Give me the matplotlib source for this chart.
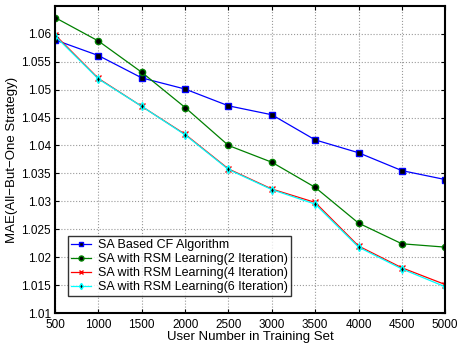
import numpy as np
import matplotlib
matplotlib.use('Agg')
import matplotlib.pyplot as plt

plt.rcParams['font.family'] = ['Liberation Sans', 'DejaVu Sans']

users = [500, 1000, 1500, 2000, 2500, 3000, 3500, 4000, 4500, 5000]
sa_cf = [1.0589, 1.0561, 1.0521, 1.0501, 1.0471, 1.0455, 1.0410, 1.0387, 1.0355, 1.0339]
rsm_2 = [1.0629, 1.0587, 1.0531, 1.0468, 1.0400, 1.0370, 1.0325, 1.0261, 1.0224, 1.0218]
rsm_4 = [1.0598, 1.0520, 1.0470, 1.0420, 1.0358, 1.0322, 1.0298, 1.0220, 1.0181, 1.0151]
rsm_6 = [1.0596, 1.0519, 1.0470, 1.0419, 1.0357, 1.0321, 1.0295, 1.0218, 1.0179, 1.0147]

labels = ['SA Based CF Algorithm',
          'SA with RSM Learning(2 Iteration)',
          'SA with RSM Learning(4 Iteration)',
          'SA with RSM Learning(6 Iteration)']

fig = plt.figure(figsize=(4.59, 3.44), dpi=100)
ax = fig.add_axes([0.12, 0.09, 0.85, 0.893])

ax.plot(users, sa_cf, color='blue', marker='s', markersize=4, markerfacecolor='black',
        markeredgecolor='blue', lw=0.9, label=labels[0])
ax.plot(users, rsm_2, color='green', marker='o', markersize=4.5, markerfacecolor='black',
        markeredgecolor='green', lw=0.9, label=labels[1])
ax.plot(users, rsm_4, color='red', marker='x', markersize=4, markeredgecolor='red',
        lw=0.9, label=labels[2])
ax.plot(users, rsm_6, color='cyan', marker='d', markersize=4, markerfacecolor='black',
        markeredgecolor='cyan', lw=0.9, label=labels[3])

ax.set_xlim(500, 5000)
ax.set_ylim(1.01, 1.065)
ax.set_xticks(users)
ax.set_yticks([1.01, 1.015, 1.02, 1.025, 1.03, 1.035, 1.04, 1.045, 1.05, 1.055, 1.06])
ax.set_yticklabels(['1.01', '1.015', '1.02', '1.025', '1.03', '1.035', '1.04',
                    '1.045', '1.05', '1.055', '1.06'])
ax.tick_params(direction='in', top=True, right=True, labelsize=8.5, length=3)
ax.tick_params(axis='y', pad=3)
ax.tick_params(axis='x', pad=4)
ax.grid(True, linestyle=':', color='#999999', linewidth=0.8)
for s in ax.spines.values():
    s.set_linewidth(1.5)

ax.set_xlabel('User Number in Training Set', fontsize=9.5, labelpad=0)
ax.set_ylabel('MAE(All\u2212But\u2212One Strategy)', fontsize=9.5, labelpad=2)

leg = ax.legend(loc='lower left', bbox_to_anchor=(0.018, 0.035), fontsize=9,
                frameon=True, fancybox=False, edgecolor='black', handlelength=1.6,
                borderpad=0.25, labelspacing=0.15, handletextpad=0.5, markerscale=0.8)
leg.get_frame().set_linewidth(1.0)

fig.savefig('out.png', dpi=100)
